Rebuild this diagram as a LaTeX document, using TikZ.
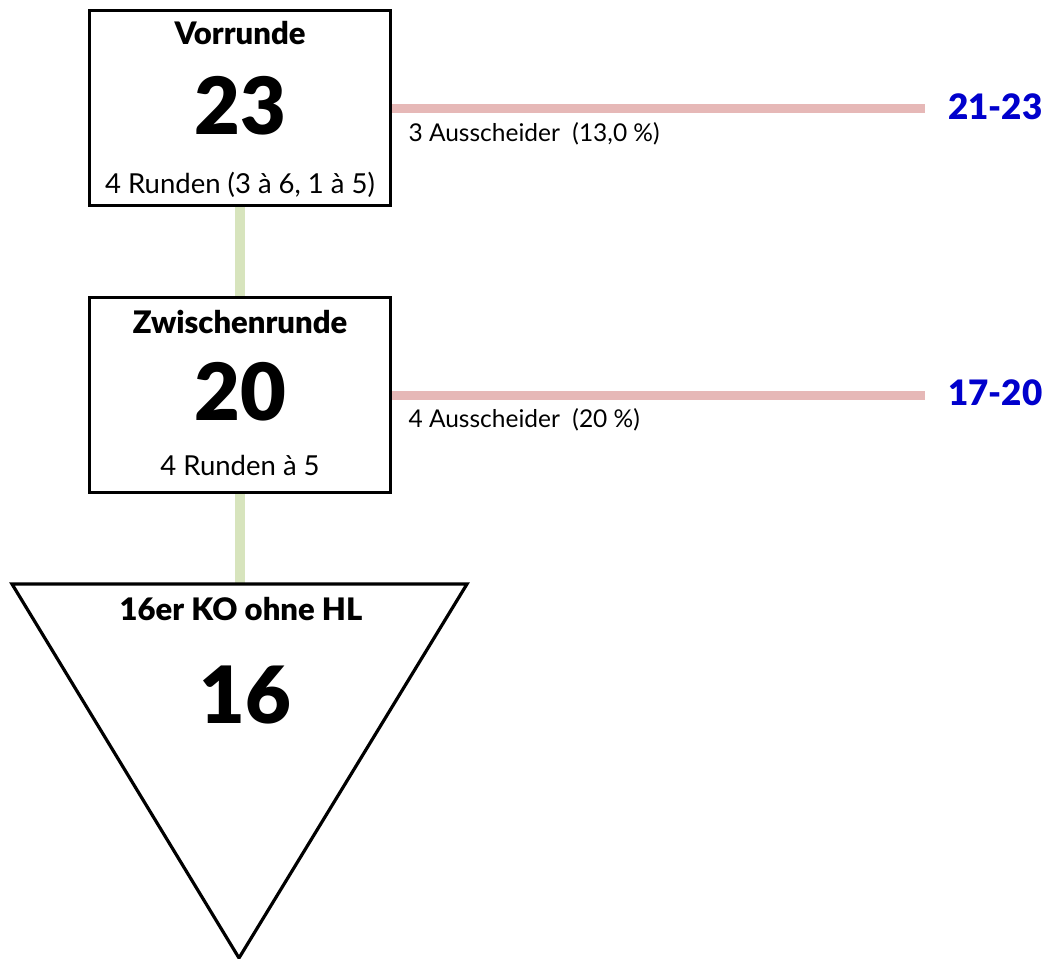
\documentclass[tikz,border=0pt]{standalone}
\usepackage{fontspec}
\setmainfont{Lato}[BoldFont={Lato Black}]
\definecolor{redline}{HTML}{E6B8B7}
\definecolor{greenline}{HTML}{D7E4BD}
\definecolor{rankblue}{HTML}{0000CC}
\begin{document}
\begin{tikzpicture}[x=1pt,y=-1pt,
  stagebox/.style={draw=black,line width=3.2pt,fill=white,minimum width=301pt,minimum height=195pt,inner sep=0pt},
  titletext/.style={font=\fontsize{31}{33}\selectfont\bfseries,anchor=base},
  bignum/.style={font=\fontsize{79}{80}\selectfont\bfseries,anchor=base},
  subtext/.style={font=\fontsize{27.5}{30}\selectfont,anchor=base},
  droptext/.style={font=\fontsize{24.5}{26}\selectfont,anchor=base west},
  ranktext/.style={font=\fontsize{35}{37}\selectfont\bfseries,text=rankblue,anchor=base east},
  redlink/.style={draw=redline,line width=9pt},
  greenlink/.style={draw=greenline,line width=10pt}]
\useasboundingbox (0,0) rectangle (1054,958);
\coordinate (tl) at (12,584);
\coordinate (tr) at (467,584);
\coordinate (tb) at (239,958);
\coordinate (ttop) at (240,584);
\coordinate (r1end) at (925,108);
\coordinate (r2end) at (925,395);
\node[stagebox] (b1) at (240,108) {};
\node[stagebox] (b2) at (240,395) {};
\draw[greenlink] (b1.south) -- (b2.north);
\draw[greenlink] (b2.south) -- (ttop);
\draw[redlink] (b1.east) -- (r1end);
\draw[redlink] (b2.east) -- (r2end);
\node[stagebox] at (b1) {};
\node[stagebox] at (b2) {};
\draw[line width=3.2pt,line join=miter,fill=white] (tl) -- (tr) -- (tb) -- cycle;
\node[titletext] (t1) at (240,45) {Vorrunde};
\node[bignum] (n1) at (240,134) {23};
\node[subtext] (s1) at (240,193) {4 Runden (3 à 6, 1 à 5)};
\node[titletext] (t2) at (240,333) {Zwischenrunde};
\node[bignum] (n2) at (240,420) {20};
\node[subtext] (s2) at (240,475) {4 Runden à 5};
\node[titletext] (t3) at (241,620) {16er KO ohne HL};
\node[bignum] (n3) at (245,723) {16};
\node[droptext] (d1) at (405,141) {3 Ausscheider\ \ (13,0 \%)};
\node[droptext] (d2) at (405,427) {4 Ausscheider\ \ (20 \%)};
\node[ranktext] (k1) at (1046,119) {21-23};
\node[ranktext] (k2) at (1046,405) {17-20};
\end{tikzpicture}
\end{document}
